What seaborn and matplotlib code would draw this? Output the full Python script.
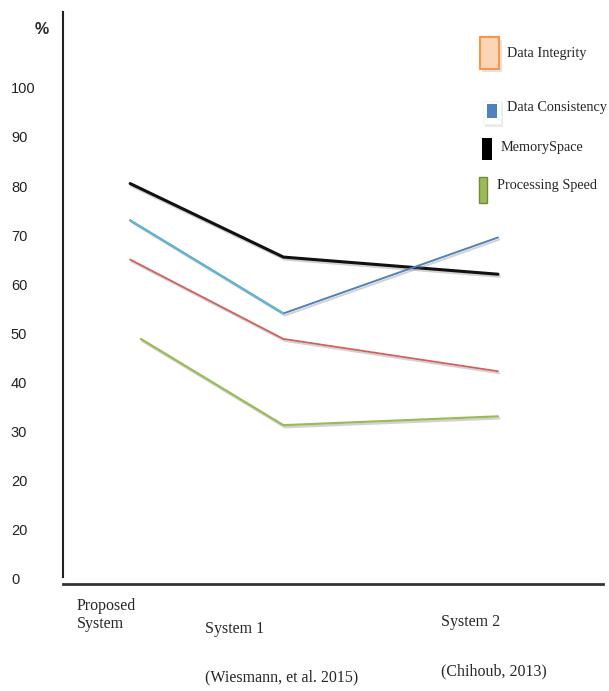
import pandas as pd
import matplotlib.pyplot as plt
import matplotlib.patheffects as pe
from matplotlib.patches import Rectangle
import seaborn as sns

# systems compared (x) and the four measured series (in %)
systems = ["Proposed System", "System 1", "System 2"]
x_pos = [0, 1, 2.4]
memory_space = [80.5, 65.5, 62.0]
data_consistency = [73.0, 54.0, 69.5]
data_integrity = [65.0, 48.8, 42.2]
processing_speed = [48.8, 31.2, 33.0]

y_ticks = [0, 10, 20, 30, 40, 50, 60, 70, 80, 90, 100]
y_tick_labels = ["0", "20", "20", "30", "40", "50", "60", "70", "80", "90", "100"]

series = {
    "Memory Space": memory_space,
    "Data Consistency": data_consistency,
    "Data Integrity": data_integrity,
    "Processing Speed": processing_speed,
}
rows = []
for name, vals in series.items():
    for s, x, v in zip(systems, x_pos, vals):
        rows.append({"series": name, "system": s, "x": x, "value": v})
df = pd.DataFrame(rows)

sns.set_style("white")
plt.rcParams["font.family"] = ["Liberation Sans", "DejaVu Sans"]

W, H = 609, 691
fig = plt.figure(figsize=(W / 100, H / 100), dpi=100)
ax = fig.add_axes([63 / W, 1 - 584 / H, (603 - 63) / W, (584 - 12) / H])

shadow = [pe.SimpleLineShadow(offset=(1, -1.5), shadow_color="gray", alpha=0.35), pe.Normal()]

colors = {
    "Memory Space": "#111111",
    "Data Consistency": "#4F81BD",
    "Data Integrity": "#D0605D",
    "Processing Speed": "#9BBB59",
}
widths = {"Memory Space": 2.2, "Data Consistency": 1.4,
          "Data Integrity": 1.3, "Processing Speed": 1.6}

for name in series:
    sub = df[df["series"] == name]
    if name == "Processing Speed":
        # the green line starts a little to the right of the others
        sub = sub.copy()
        sub.loc[sub["x"] == 0, "x"] = 0.07
    sns.lineplot(data=sub, x="x", y="value", color=colors[name],
                 linewidth=widths[name], ax=ax, legend=False,
                 path_effects=shadow)
    if name == "Data Consistency":
        # first segment is drawn in a lighter cyan
        sns.lineplot(data=sub.iloc[:2], x="x", y="value", color="#5BB8D0",
                     linewidth=widths[name], ax=ax, legend=False)

ax.set_xlim(-0.438, 3.085)
ax.set_ylim(-1.2, 115.5)
ax.set_yticks(y_ticks)
ax.set_yticklabels(y_tick_labels, fontsize=10.5, color="#222222")
ax.tick_params(axis="y", length=0, pad=37.5)
for t in ax.get_yticklabels():
    t.set_horizontalalignment("left")
ax.set_xticks([])
ax.set_xlabel("")
ax.set_ylabel("")

for side in ["top", "right"]:
    ax.spines[side].set_visible(False)
ax.spines["left"].set_color("#222222")
ax.spines["left"].set_linewidth(1.5)
ax.spines["left"].set_bounds(0.3, 115.5)
ax.spines["bottom"].set_color("#333333")
ax.spines["bottom"].set_linewidth(2)

# "%" unit mark
fig.text(35 / W, 1 - 29 / H, "%", fontsize=11.5, fontweight="bold",
         va="center", ha="left")

# x category labels (serif, placed like the original text boxes)
serif = ["Liberation Serif", "DejaVu Serif"]
xlabels = [
    (77, 615, "Proposed\nSystem"),
    (205, 629, "System 1"),
    (205, 677, "(Wiesmann, et al. 2015)"),
    (441, 622, "System 2"),
    (441, 671, "(Chihoub, 2013)"),
]
for px, py, txt in xlabels:
    fig.text(px / W, 1 - py / H, txt, fontsize=11.5, family=serif,
             va="center", ha="left", linespacing=1.25)

# legend drawn as loose markers + text
def fig_rect(x0, y0, x1, y1, **kw):
    r = Rectangle((x0 / W, 1 - y1 / H), (x1 - x0) / W, (y1 - y0) / H,
                  transform=fig.transFigure, **kw)
    fig.patches.append(r)
    return r

fig_rect(482, 40, 502, 72, facecolor="#bbbbbb", edgecolor="none", alpha=0.4)
fig_rect(480, 37, 499, 69, facecolor="#FCD5B4", edgecolor="#F79646", linewidth=1.5)
fig_rect(485, 103, 503, 127, facecolor="#cccccc", edgecolor="none", alpha=0.4)
fig_rect(483, 101, 501, 124, facecolor="white", edgecolor="#eeeeee", linewidth=0.5)
fig_rect(487, 104, 497, 118, facecolor="#4F81BD", edgecolor="none")
fig_rect(482, 138, 492, 160, facecolor="black", edgecolor="none")
fig_rect(479, 177, 487, 203, facecolor="#9BBB59", edgecolor="#71893F", linewidth=1)

legend_text = [
    (507, 53, "Data Integrity"),
    (507, 107, "Data Consistency"),
    (501, 148, "MemorySpace"),
    (497, 186, "Processing Speed"),
]
for px, py, txt in legend_text:
    fig.text(px / W, 1 - py / H, txt, fontsize=10.3, family=serif,
             va="center", ha="left")

fig.savefig("out.png", dpi=100)
